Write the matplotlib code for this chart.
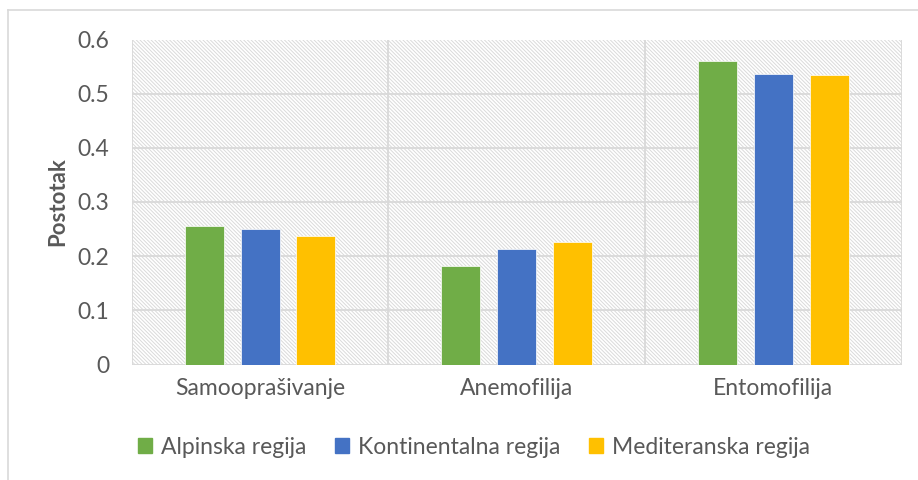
import matplotlib
matplotlib.use("Agg")
import matplotlib.pyplot as plt
import numpy as np
from matplotlib.patches import Rectangle
from matplotlib.lines import Line2D

categories = ["Samooprašivanje", "Anemofilija", "Entomofilija"]
series_names = ["Alpinska regija", "Kontinentalna regija", "Mediteranska regija"]
alpinska = [0.256, 0.181, 0.561]
kontinentalna = [0.250, 0.213, 0.536]
mediteranska = [0.238, 0.227, 0.534]
yticks = [0, 0.1, 0.2, 0.3, 0.4, 0.5, 0.6]
ylabel = "Postotak"

colors = ["#70AD47", "#4472C4", "#FFC000"]
grid_c = "#D9D9D9"
text_c = "#595959"

plt.rcParams['font.family'] = ['Lato', 'DejaVu Sans']
plt.rcParams['hatch.color'] = "#DADADA"
plt.rcParams['hatch.linewidth'] = 0.7

fig = plt.figure(figsize=(9.18, 4.8), dpi=100)
ax = fig.add_axes([131.7/918, 1-364.5/480, (901.7-131.7)/918, (364.5-39.5)/480])

# hatched background
ax.add_patch(Rectangle((-0.5, 0), 3, 0.6, facecolor="white", edgecolor="#DADADA",
                       hatch="\\" * 9, linewidth=0, zorder=0))

x = np.arange(len(categories))
w = 0.152
off = 0.218
for i, (vals, name) in enumerate(zip([alpinska, kontinentalna, mediteranska], series_names)):
    ax.bar(x + (i - 1) * off, vals, width=w, color=colors[i], label=name, zorder=3,
           edgecolor="white", linewidth=0.5)

ax.set_xlim(-0.5, 2.5)
ax.set_ylim(0, 0.6)
ax.set_yticks(yticks)
ax.set_yticklabels(["0", "0.1", "0.2", "0.3", "0.4", "0.5", "0.6"], fontsize=16.5, color=text_c)
ax.set_xticks(x)
ax.set_xticklabels(categories, fontsize=16.5, color=text_c)
ax.tick_params(axis="both", length=0)
ax.tick_params(axis="y", pad=16)
ax.tick_params(axis="x", pad=10)

for yv in yticks:
    ax.axhline(yv, color=grid_c, linewidth=1.3, zorder=1)
for xv in [-0.5, 0.5, 1.5, 2.5]:
    ax.axvline(xv, color=grid_c, linewidth=1.3, zorder=1)
for s in ax.spines.values():
    s.set_visible(False)

ax.set_ylabel(ylabel, fontsize=16, fontweight="bold", color=text_c, labelpad=7)

handles = [Rectangle((0, 0), 1, 1, color=c) for c in colors]
leg = fig.legend(handles, series_names, loc="center", bbox_to_anchor=(0.5 + 15/918, 1-447/480),
                 ncol=3, frameon=False, fontsize=16.5, handlelength=0.6, handleheight=0.6,
                 columnspacing=1.25, handletextpad=0.4)
for t in leg.get_texts():
    t.set_color(text_c)

# chart border (top and left)
fig.add_artist(Line2D([8/918, 1], [1-10/480, 1-10/480], color=grid_c, linewidth=1.2,
                      transform=fig.transFigure))
fig.add_artist(Line2D([8/918, 8/918], [0, 1-10/480], color=grid_c, linewidth=1.2,
                      transform=fig.transFigure))

fig.savefig("out.png", dpi=100)
